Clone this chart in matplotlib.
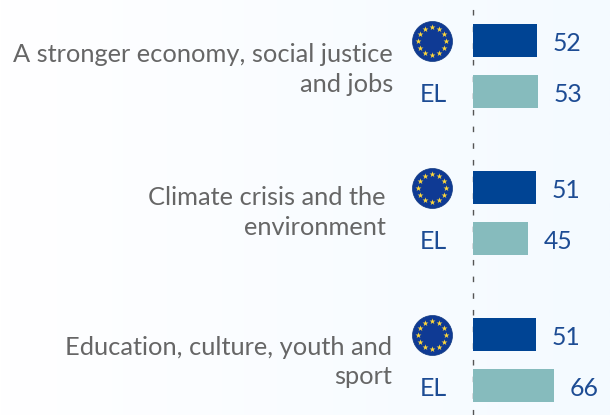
import numpy as np
import matplotlib
matplotlib.use('Agg')
import matplotlib.pyplot as plt

# data
labels = ['A stronger economy, social justice\nand jobs',
          'Climate crisis and the\nenvironment',
          'Education, culture, youth and\nsport']
eu_values = [52, 51, 51]
el_values = [53, 45, 66]
el_label = 'EL'

plt.rcParams['font.family'] = ['Lato', 'DejaVu Sans']

W, H = 610, 415
px_per_unit = 1.23
x0 = 473

fig = plt.figure(figsize=(W / 100, H / 100), dpi=100)
ax = fig.add_axes([0, 0, 1, 1])
ax.set_xlim(-x0 / px_per_unit, (W - x0) / px_per_unit)
ax.set_ylim(H, 0)
ax.axis('off')

# background gradient, white to pale blue
grad = np.linspace(0, 1, 256).reshape(1, -1)
cmap = matplotlib.colors.LinearSegmentedColormap.from_list('bg', ['#ffffff', '#f4faff'])
ax.imshow(grad, extent=ax.get_xlim() + ax.get_ylim(), cmap=cmap, aspect='auto', zorder=0)

# dashed zero line
ax.axvline(-0.3, color='#555555', linewidth=1, linestyle=(0, (4, 8)), zorder=1)


def px(p):
    # pixel offset to data units on x
    return (p - x0) / px_per_unit


label_right = [393, 386, 392]
label_mid = [69.5, 212.5, 362]

for i in range(3):
    top = 24 + 147 * i
    ax.barh(top + 16.5, eu_values[i], height=33, color='#004494', zorder=2)
    ax.barh(top + 67.5, el_values[i], height=33, color='#86bbbd', zorder=2)

    # value labels
    ax.text(eu_values[i] + 12.7, top + 19.5, str(eu_values[i]), fontsize=17.8, color='#1d4c94',
            ha='left', va='center', zorder=3)
    ax.text(el_values[i] + 12.7, top + 70.5, str(el_values[i]), fontsize=17.8, color='#1d4c94',
            ha='left', va='center', zorder=3)

    # category label
    ax.text(px(label_right[i]), label_mid[i], labels[i], fontsize=18.3, color='#666666',
            ha='right', va='center', linespacing=1.36, zorder=3)

    # EU flag
    cx, cy = 432, top + 17
    ax.scatter([px(cx)], [cy], s=(40 * 0.72) ** 2, color='#0f3a94', edgecolor='#123a80',
               linewidth=0.5, zorder=3)
    ang = np.arange(12) * np.pi / 6
    ax.scatter(px(cx + 14.2 * np.sin(ang)), cy - 14.2 * np.cos(ang), s=20, marker='*',
               color='#ffd83a', linewidth=0, zorder=4)

    # country label
    ax.text(px(433), top + 70.5, el_label, fontsize=18, color='#1d4c94', ha='center', va='center', zorder=3)

plt.savefig('out.png', dpi=100)
